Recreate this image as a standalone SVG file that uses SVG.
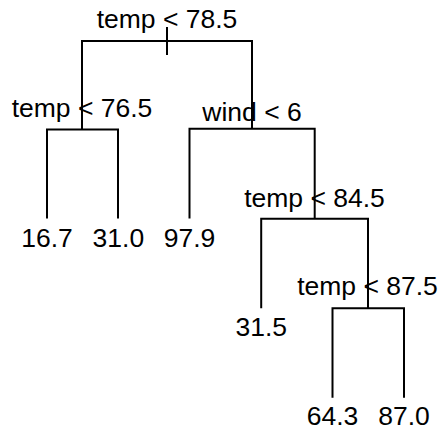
<svg xmlns="http://www.w3.org/2000/svg" width="441" height="432" viewBox="0 0 441 432">
<style>
.e{fill:none;stroke:#000;stroke-width:2;stroke-linecap:butt}
text{font-family:"Liberation Sans",Arial,sans-serif;font-size:26.5px;fill:#000;text-anchor:middle}
</style>
<rect width="441" height="432" fill="#fff"/>
<g id="connectors">
<path class="e" d="M82,129.5V41H252V128.7"/>
<path class="e" d="M167,27V55"/>
<path class="e" d="M47,218.5V129.5H118V218.5"/>
<path class="e" d="M189.5,218.5V128.7H314.7V218.7"/>
<path class="e" d="M261.2,308.3V218.7H368V308.3"/>
<path class="e" d="M332.5,397.7V308.3H404V397.7"/>
</g>
<g id="n1"><text x="167" y="28">temp &lt; 78.5</text></g>
<g id="n2"><text x="82" y="117">temp &lt; 76.5</text></g>
<g id="n3"><text x="252" y="121">wind &lt; 6</text></g>
<g id="n6"><text x="314.5" y="207">temp &lt; 84.5</text></g>
<g id="n7"><text x="367.5" y="295">temp &lt; 87.5</text></g>
<g id="l4"><text x="47" y="247">16.7</text></g>
<g id="l5"><text x="118.4" y="247">31.0</text></g>
<g id="l6"><text x="189.5" y="247">97.9</text></g>
<g id="l7"><text x="261.2" y="336">31.5</text></g>
<g id="l8"><text x="332.5" y="425">64.3</text></g>
<g id="l9"><text x="404" y="425">87.0</text></g>
</svg>
